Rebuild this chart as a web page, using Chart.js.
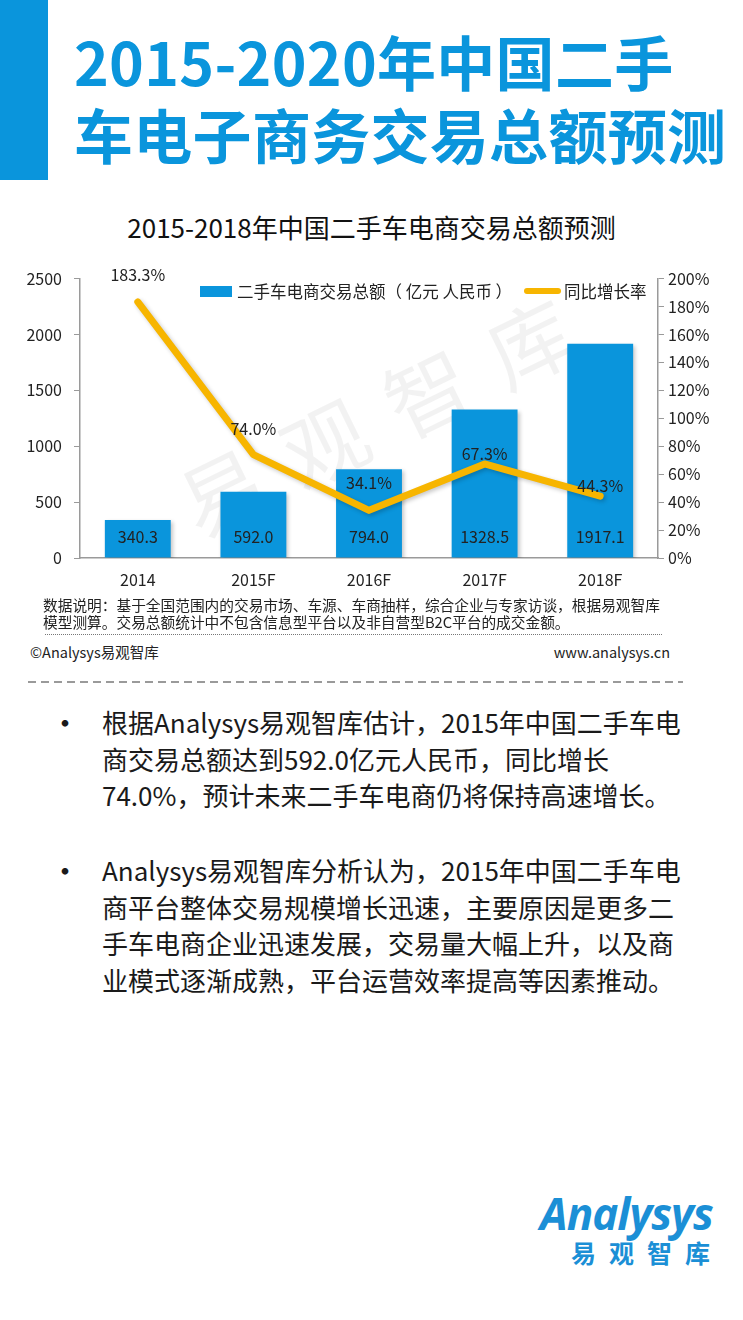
<!DOCTYPE html>
<html>
<head>
<meta charset="utf-8">
<script src="https://cdn.jsdelivr.net/npm/chart.js@4"></script>
<style>
  body { margin: 0; width: 743px; height: 1320px; background: #fff; position: relative; overflow: hidden;
         font-family: "Noto Sans CJK SC", "Noto Sans", sans-serif; color: #1a1a1a; }
  .abs { position: absolute; white-space: nowrap; }
  #sidebar { left: 0; top: 0; width: 48px; height: 180px; background: #0a95dc; }
  #title { left: 74px; top: 24px; font-size: 59px; font-weight: 700; color: #0a95dc; line-height: 73px; letter-spacing: 0.3px; }
  #chartTitle { left: 0; width: 743px; top: 208px; text-align: center; font-size: 26px; color: #111; }
  #watermark { left: 388px; top: 408px; font-size: 84px; color: rgba(0,0,0,0.05); letter-spacing: 30px;
               transform: translate(-50%, -50%) rotate(-26deg); }
  #chartBox { left: 0; top: 257px; width: 743px; height: 348px; }
  .legend { font-size: 16.5px; color: #222; line-height: 20px; }
  #note { left: 43px; top: 596px; font-size: 14.7px; line-height: 17px; color: #222; }
  #dots { left: 45px; top: 634px; width: 617px; border-top: 1.5px dotted #777; }
  #copy { left: 30px; top: 641px; font-size: 14.5px; color: #222; }
  #site { right: 73px; top: 641px; font-size: 14.5px; color: #222; }
  #dash { left: 28px; top: 681px; width: 655px; height: 2px;
          background: repeating-linear-gradient(to right, #9a9a9a 0 8px, transparent 8px 13px); }
  .bullet { font-size: 26px; line-height: 36.5px; color: #1a1a1a; }
  .dot { font-size: 26px; font-weight: 700; line-height: 36.5px; }
  #logo1 { left: 540px; top: 1183px; font-size: 44px; font-weight: 700; font-style: italic; color: #1b8fd6; letter-spacing: -1px; font-family: "Open Sans", sans-serif; }
  #logo2 { left: 571px; top: 1234px; font-size: 25px; font-weight: 700; color: #1b8fd6; letter-spacing: 13px; }
</style>
</head>
<body>
<div id="sidebar" class="abs"></div>
<div id="title" class="abs">2015-2020年中国二手<br>车电子商务交易总额预测</div>

<div id="chartTitle" class="abs">2015-2018年中国二手车电商交易总额预测</div>
<div id="watermark" class="abs">易观智库</div>
<div id="chartBox" class="abs"><canvas id="salesChart"></canvas></div>

<div class="abs" style="left:200px;top:286px;width:32px;height:11px;background:#0a95dc;"></div>
<div class="abs legend" style="left:237px;top:281px;">二手车电商交易总额（&nbsp;亿元 人民币&nbsp;）</div>
<div class="abs" style="left:524px;top:288px;width:37px;height:6px;border-radius:3px;background:#f7b500;"></div>
<div class="abs legend" style="left:564px;top:281px;">同比增长率</div>

<div id="note" class="abs">数据说明：基于全国范围内的交易市场、车源、车商抽样，综合企业与专家访谈，根据易观智库<br>模型测算。交易总额统计中不包含信息型平台以及非自营型B2C平台的成交金额。</div>
<div id="dots" class="abs"></div>
<div id="copy" class="abs">©Analysys易观智库</div>
<div id="site" class="abs">www.analysys.cn</div>
<div id="dash" class="abs"></div>

<div class="abs dot" style="left:52px;top:704px;">•</div>
<div class="abs bullet" style="left:102px;top:704px;">根据Analysys易观智库估计，2015年中国二手车电<br>商交易总额达到592.0亿元人民币，同比增长<br>74.0%，预计未来二手车电商仍将保持高速增长。</div>
<div class="abs dot" style="left:52px;top:852px;">•</div>
<div class="abs bullet" style="left:102px;top:852px;">Analysys易观智库分析认为，2015年中国二手车电<br>商平台整体交易规模增长迅速，主要原因是更多二<br>手车电商企业迅速发展，交易量大幅上升，以及商<br>业模式逐渐成熟，平台运营效率提高等因素推动。</div>

<div id="logo1" class="abs">Analysys</div>
<div id="logo2" class="abs">易观智库</div>

<script>
// chart data
var years = ['2014', '2015F', '2016F', '2017F', '2018F'];
var totalAmount = [340.3, 592.0, 794.0, 1328.5, 1917.1];   // 亿元 人民币
var growthRate = [183.3, 74.0, 34.1, 67.3, 44.3];           // %

var barColor = '#0a95dc';
var lineColor = '#f7b500';
var fontFamily = '"Noto Sans CJK SC", "Noto Sans", sans-serif';

// label offsets above the line points
var rateLabelLift = [27, 26, 27, 10, 10];

var shadowPlugin = {
    id: 'shadow',
    beforeDatasetDraw: function (chart, args) {
        var ctx = chart.ctx;
        ctx.save();
        ctx.shadowColor = 'rgba(0,0,0,0.22)';
        ctx.shadowBlur = 4;
        ctx.shadowOffsetX = 2;
        ctx.shadowOffsetY = 2;
    },
    afterDatasetDraw: function (chart) {
        chart.ctx.restore();
    }
};

var valueLabels = {
    id: 'valueLabels',
    afterDatasetsDraw: function (chart) {
        var ctx = chart.ctx;
        ctx.save();
        ctx.font = '16px ' + fontFamily;
        ctx.fillStyle = '#222';
        ctx.textAlign = 'center';
        ctx.textBaseline = 'middle';

        var bars = chart.getDatasetMeta(1).data;
        bars.forEach(function (bar, i) {
            ctx.fillText(totalAmount[i].toFixed(1), bar.x, bar.base - 21);
        });

        var points = chart.getDatasetMeta(0).data;
        points.forEach(function (pt, i) {
            ctx.fillText(growthRate[i].toFixed(1) + '%', pt.x, pt.y - rateLabelLift[i]);
        });
        ctx.restore();
    }
};

var ctx = document.getElementById('salesChart').getContext('2d');
var salesChart = new Chart(ctx, {
    type: 'bar',
    data: {
        labels: years,
        datasets: [
            {
                type: 'line',
                label: '同比增长率',
                data: growthRate,
                yAxisID: 'y1',
                borderColor: lineColor,
                borderWidth: 7,
                pointRadius: 0,
                tension: 0,
                borderJoinStyle: 'round',
                borderCapStyle: 'round',
                order: 0
            },
            {
                label: '二手车电商交易总额（亿元 人民币）',
                data: totalAmount,
                yAxisID: 'y',
                backgroundColor: barColor,
                borderWidth: 0,
                barPercentage: 0.57,
                categoryPercentage: 1,
                order: 1
            }
        ]
    },
    options: {
        responsive: true,
        maintainAspectRatio: false,
        animation: false,
        layout: { padding: { top: 6, left: 0, right: 0, bottom: 0 } },
        plugins: {
            legend: { display: false },
            tooltip: { enabled: false }
        },
        scales: {
            x: {
                grid: { display: false },
                border: { display: true, color: '#9a9a9a', width: 1.5 },
                ticks: { color: '#222', font: { size: 16, family: fontFamily }, padding: 4, maxRotation: 0 },
                afterFit: function (scale) { scale.height = 47; }
            },
            y: {
                position: 'left',
                min: 0,
                max: 2500,
                ticks: {
                    stepSize: 500,
                    color: '#222',
                    font: { size: 16, family: fontFamily },
                    padding: 12,
                    callback: function (v) { return String(v); }
                },
                grid: { drawOnChartArea: false, drawTicks: true, tickLength: 6, color: '#9a9a9a' },
                border: { display: true, color: '#9a9a9a', width: 1.5 },
                afterFit: function (scale) { scale.width = 80; }
            },
            y1: {
                position: 'right',
                min: 0,
                max: 200,
                ticks: {
                    stepSize: 20,
                    color: '#222',
                    font: { size: 16, family: fontFamily },
                    padding: 4,
                    callback: function (v) { return v + '%'; }
                },
                grid: { drawOnChartArea: false, drawTicks: true, tickLength: 6, color: '#9a9a9a' },
                border: { display: true, color: '#9a9a9a', width: 1.5 },
                afterFit: function (scale) { scale.width = 85; }
            }
        }
    },
    plugins: [shadowPlugin, valueLabels]
});
</script>
</body>
</html>
